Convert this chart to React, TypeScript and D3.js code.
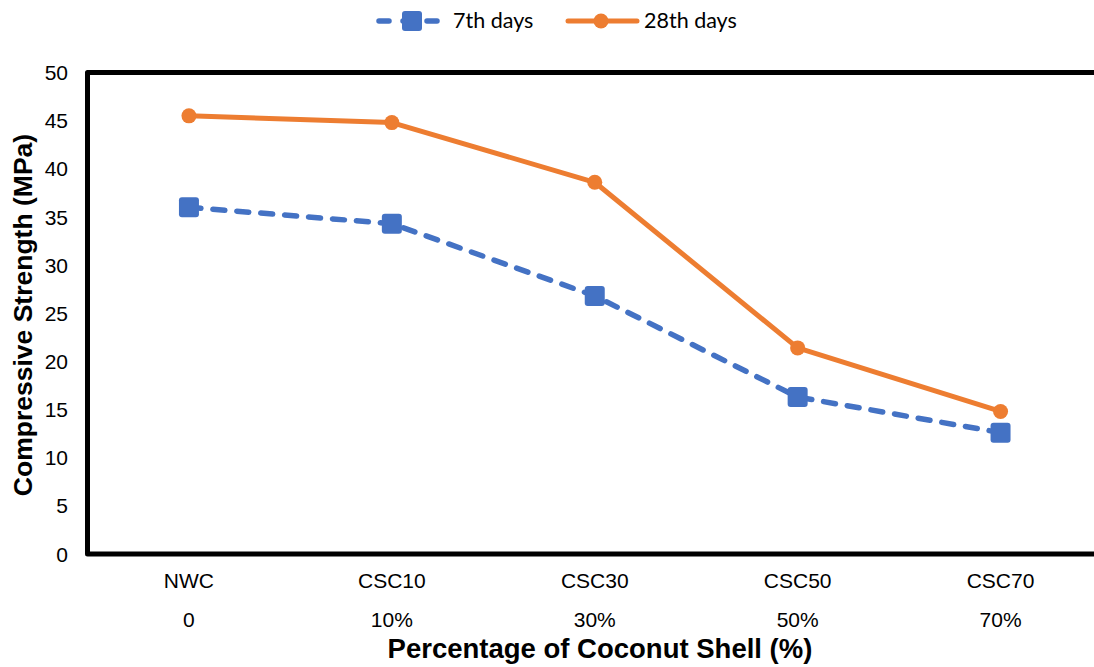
import React from "react";
import * as d3 from "d3";

const categories = ["NWC", "CSC10", "CSC30", "CSC50", "CSC70"];
const percentLabels = ["0", "10%", "30%", "50%", "70%"];
const day7 = [36.0, 34.3, 26.8, 16.3, 12.6];
const day28 = [45.5, 44.8, 38.6, 21.4, 14.8];
const yTicks = [0, 5, 10, 15, 20, 25, 30, 35, 40, 45, 50];

const BLUE = "#4472C4";
const ORANGE = "#ED7D31";

export default function App() {
  const width = 1094;
  const height = 667;
  const left = 87.5;
  const right = 1102;
  const top = 72.5;
  const bottom = 554;

  const x = d3.scaleBand<string>().domain(categories).range([left, right]);
  const y = d3.scaleLinear().domain([0, 50]).range([bottom, top]);
  const cx = (c: string) => (x(c) ?? 0) + x.bandwidth() / 2;

  const line = d3
    .line<number>()
    .x((_, i) => cx(categories[i]))
    .y((d) => y(d));

  const axisFont = "Liberation Sans, Arial, sans-serif";

  // Plot frame: left, top and bottom edges (the right edge lies past the drawing width)
  const frame = `M${width + 10},${top} H${left} V${bottom} H${width + 10}`;

  return (
    <div style={{ position: "fixed", left: 0, top: 0, width, height, overflow: "hidden" }}>
      <svg width={width} height={height} style={{ display: "block", background: "#fff" }}>
        {/* Legend */}
        <g>
          <line x1={379} x2={440} y1={21} y2={21} stroke={BLUE} strokeWidth={5.5} strokeDasharray="10,14" strokeLinecap="round" />
          <rect x={402} y={11} width={20} height={20} rx={3} fill={BLUE} />
          <text x={453} y={28} fontFamily="Lato, sans-serif" fontSize={21.5} fill="#000">7th days</text>
          <line x1={568} x2={637} y1={21} y2={21} stroke={ORANGE} strokeWidth={5} strokeLinecap="round" />
          <circle cx={601} cy={21} r={7.5} fill={ORANGE} />
          <text x={644} y={28} fontFamily="Lato, sans-serif" fontSize={21.5} fill="#000">28th days</text>
        </g>

        {/* Y tick labels */}
        {yTicks.map((t) => (
          <text key={t} x={68} y={y(t)} dy="0.36em" textAnchor="end" fontFamily={axisFont} fontSize={21} fill="#000">
            {t}
          </text>
        ))}

        {/* Category labels */}
        {categories.map((c, i) => (
          <g key={c}>
            <text x={cx(c)} y={588} textAnchor="middle" fontFamily={axisFont} fontSize={21} fill="#000">{c}</text>
            <text x={cx(c)} y={627} textAnchor="middle" fontFamily={axisFont} fontSize={21} fill="#000">{percentLabels[i]}</text>
          </g>
        ))}

        {/* Axis titles */}
        <text
          transform={`translate(32,315) rotate(-90)`}
          textAnchor="middle"
          fontFamily={axisFont}
          fontWeight="bold"
          fontSize={26.5}
          fill="#000"
        >
          Compressive Strength (MPa)
        </text>
        <text x={600} y={658} textAnchor="middle" fontFamily={axisFont} fontWeight="bold" fontSize={27.5} fill="#000">
          Percentage of Coconut Shell (%)
        </text>

        {/* Series */}
        <path d={line(day28) ?? ""} fill="none" stroke={ORANGE} strokeWidth={5} strokeLinejoin="round" />
        <path d={line(day7) ?? ""} fill="none" stroke={BLUE} strokeWidth={5.5} strokeDasharray="12,12" strokeLinecap="round" strokeLinejoin="round" />
        {day28.map((v, i) => (
          <circle key={"o" + i} cx={cx(categories[i])} cy={y(v)} r={7.5} fill={ORANGE} />
        ))}
        {day7.map((v, i) => (
          <rect key={"b" + i} x={cx(categories[i]) - 10} y={y(v) - 10} width={20} height={20} rx={3} fill={BLUE} />
        ))}

        <path d={frame} fill="none" stroke="#000" strokeWidth={5} strokeLinejoin="round" />
      </svg>
    </div>
  );
}
